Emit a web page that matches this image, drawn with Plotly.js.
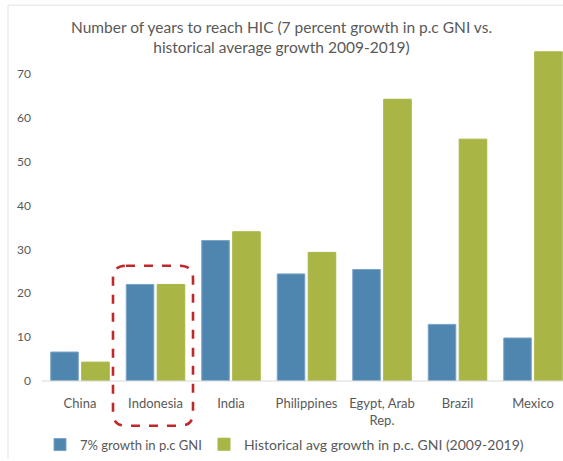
<!DOCTYPE html>
<html>
<head>
<meta charset="utf-8">
<script src="https://cdn.plot.ly/plotly-3.0.1.min.js"></script>
<style>
html,body{margin:0;padding:0;background:#fff;}
#chart{width:563px;height:461px;}
</style>
</head>
<body>
<div id="chart"></div>
<script>
var categories = ["China", "Indonesia", "India", "Philippines", "Egypt, Arab<br>Rep.", "Brazil", "Mexico"];
var growth7 = [6.6, 22.0, 32.0, 24.4, 25.4, 12.9, 9.8];
var historical = [4.3, 22.0, 34.0, 29.3, 64.2, 55.1, 75.0];
var seriesNames = ["7% growth in p.c GNI", "Historical avg growth in p.c. GNI (2009-2019)"];
var yTicks = [0, 10, 20, 30, 40, 50, 60, 70];

var W = 563, H = 461;
var M = {l: 42, r: 0, t: 43, b: 78};
var pw = W - M.l - M.r, ph = H - M.t - M.b;
function px(x){ return (x - M.l) / pw; }
function py(y){ return (H - M.b - y) / ph; }

// highlight box around Indonesia (pixel frame converted to paper)
function roundRect(x0, y0, x1, y1, r){
  var X0 = px(x0), X1 = px(x1), Y0 = py(y0), Y1 = py(y1);
  var rx = r / pw, ry = r / ph;
  return 'M' + (X0 + rx) + ',' + Y0 +
    ' L' + (X1 - rx) + ',' + Y0 +
    ' Q' + X1 + ',' + Y0 + ' ' + X1 + ',' + (Y0 - ry) +
    ' L' + X1 + ',' + (Y1 + ry) +
    ' Q' + X1 + ',' + Y1 + ' ' + (X1 - rx) + ',' + Y1 +
    ' L' + (X0 + rx) + ',' + Y1 +
    ' Q' + X0 + ',' + Y1 + ' ' + X0 + ',' + (Y1 + ry) +
    ' L' + X0 + ',' + (Y0 - ry) +
    ' Q' + X0 + ',' + Y0 + ' ' + (X0 + rx) + ',' + Y0 + ' Z';
}

var font = "Lato, 'Open Sans', sans-serif";
var txt = "#595959";

var data = [
  {type: 'bar', x: categories, y: growth7, name: seriesNames[0], legend: 'legend',
   marker: {color: '#4F86B0', line: {color: '#7AA3C6', width: 1}}, hoverinfo: 'none'},
  {type: 'bar', x: categories, y: historical, name: seriesNames[1], legend: 'legend2',
   marker: {color: '#A9B545', line: {color: '#A9B545', width: 1}}, hoverinfo: 'none'}
];

var catW = 75.5;
var pxPer10 = 44.15;
var start = -(80 - M.l) / catW;
var layout = {
  width: W, height: H,
  margin: M,
  paper_bgcolor: '#fff', plot_bgcolor: '#fff',
  font: {family: font, color: txt},
  title: {
    text: 'Number of years to reach HIC (7 percent growth in p.c GNI vs.<br>historical average growth 2009-2019)',
    font: {family: font, size: 15.5, color: txt},
    x: 0.5, xref: 'container', xanchor: 'center',
    y: 1 - 33 / H, yref: 'container', yanchor: 'middle'
  },
  barmode: 'group',
  bargap: 0.18,
  bargroupgap: 0.11,
  showlegend: true,
  legend: {
    orientation: 'h', x: px(40), xanchor: 'left', y: py(447), yanchor: 'middle',
    font: {family: font, size: 13, color: txt}, itemwidth: 30, bgcolor: 'rgba(0,0,0,0)'
  },
  legend2: {
    orientation: 'h', x: px(204), xanchor: 'left', y: py(447), yanchor: 'middle',
    font: {family: font, size: 14, color: txt}, itemwidth: 30, bgcolor: 'rgba(0,0,0,0)'
  },
  xaxis: {
    type: 'category',
    range: [start, start + pw / catW],
    showgrid: false, zeroline: false,
    showline: false, ticks: '',
    tickfont: {family: font, size: 13, color: txt},
    ticklabelstandoff: 13,
    fixedrange: true
  },
  yaxis: {
    range: [0, ph * 10 / pxPer10],
    tickvals: yTicks, ticktext: yTicks.map(String),
    showgrid: false, zeroline: false, showline: false, ticks: '',
    tickfont: {family: font, size: 12, color: txt},
    ticklabelstandoff: 10,
    fixedrange: true
  },
  shapes: [
    {type: 'line', xref: 'paper', yref: 'paper', x0: 0, x1: 1, y0: 0, y1: 0,
     line: {color: '#D9D9D9', width: 1.2}},
    {type: 'line', xref: 'paper', yref: 'paper', x0: px(8), x1: px(8), y0: py(5), y1: py(461),
     line: {color: '#EBEBEB', width: 1.5}},
    {type: 'line', xref: 'paper', yref: 'paper', x0: px(8), x1: px(563), y0: py(5), y1: py(5),
     line: {color: '#EBEBEB', width: 1.5}},
    {type: 'path', xref: 'paper', yref: 'paper', path: roundRect(113, 267, 193, 428, 13),
     line: {color: '#C0282A', width: 2.6, dash: 'dash'}, fillcolor: 'rgba(0,0,0,0)'}
  ]
};

Plotly.newPlot('chart', data, layout, {displayModeBar: false, staticPlot: true});
</script>
</body>
</html>
